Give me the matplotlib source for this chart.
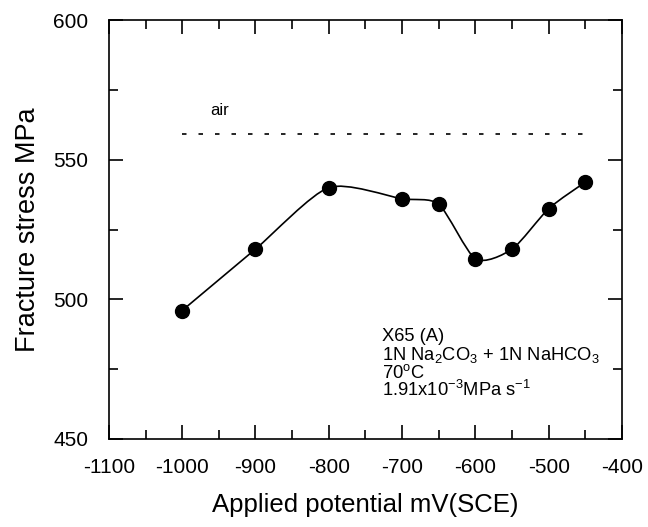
import numpy as np
import matplotlib
matplotlib.use("Agg")
import matplotlib.pyplot as plt
from matplotlib.path import Path
from matplotlib.patches import PathPatch
from matplotlib.ticker import MultipleLocator

plt.rcParams['font.family'] = ['Liberation Sans', 'DejaVu Sans']
plt.rcParams['mathtext.default'] = 'regular'
plt.rcParams['axes.unicode_minus'] = False

# Data
potential = [-1000, -900, -800, -700, -650, -600, -550, -500, -450]
stress = [496, 518, 540, 536, 534, 514.5, 518, 532.5, 542]
air_x = [-1000, -450]
air_y = [559.3, 559.3]
note_lines = ['X65 (A)',
              r'1N Na$_2$CO$_3$ + 1N NaHCO$_3$',
              r'70$^o$C',
              r'1.91x10$^{-3}$MPa s$^{-1}$']


def smooth_path(xs, ys, t=0.12):
    # Catmull-Rom style bezier through the points
    pts = np.column_stack([xs, ys]).astype(float)
    verts = [pts[0]]
    codes = [Path.MOVETO]
    n = len(pts)
    for i in range(n - 1):
        p0 = pts[max(i - 1, 0)]
        p1 = pts[i]
        p2 = pts[i + 1]
        p3 = pts[min(i + 2, n - 1)]
        c1 = p1 + (p2 - p0) * t
        c2 = p2 - (p3 - p1) * t
        verts += [c1, c2, p2]
        codes += [Path.CURVE4] * 3
    return Path(verts, codes)


fig = plt.figure(figsize=(6.48, 5.27), dpi=100)
ax = fig.add_axes([0.168, 0.167, 0.792, 0.795])

ax.add_patch(PathPatch(smooth_path(potential, stress), fill=False,
                       edgecolor='black', lw=1.2))
ax.plot(potential, stress, 'o', color='black', markersize=10)
ax.plot(air_x, air_y, color='black', lw=1.2, dashes=(2.7, 7.2))
ax.text(-962, 567.5, 'air', fontsize=12, va='center')

for i, line in enumerate(note_lines):
    ax.text(-727, 486.6 - i * 6.4, line, fontsize=13.2, va='center')

ax.set_xlim(-1100, -400)
ax.set_ylim(450, 600)
ax.xaxis.set_major_locator(MultipleLocator(100))
ax.xaxis.set_minor_locator(MultipleLocator(50))
ax.yaxis.set_major_locator(MultipleLocator(50))
ax.yaxis.set_minor_locator(MultipleLocator(25))
ax.tick_params(which='both', direction='in', top=True, right=True,
               labelsize=15, width=1.2)
ax.tick_params(which='major', length=10)
ax.tick_params(axis='x', which='major', pad=14)
ax.tick_params(axis='y', which='major', pad=15)
ax.tick_params(which='minor', length=6.5)
for s in ax.spines.values():
    s.set_linewidth(1.2)

ax.set_xlabel('Applied potential mV(SCE)', fontsize=18.5)
ax.set_ylabel('Fracture stress MPa', fontsize=19.5)
ax.xaxis.set_label_coords(0.5, -0.128)
ax.yaxis.set_label_coords(-0.132, 0.5)

fig.savefig('out.png', dpi=100)
